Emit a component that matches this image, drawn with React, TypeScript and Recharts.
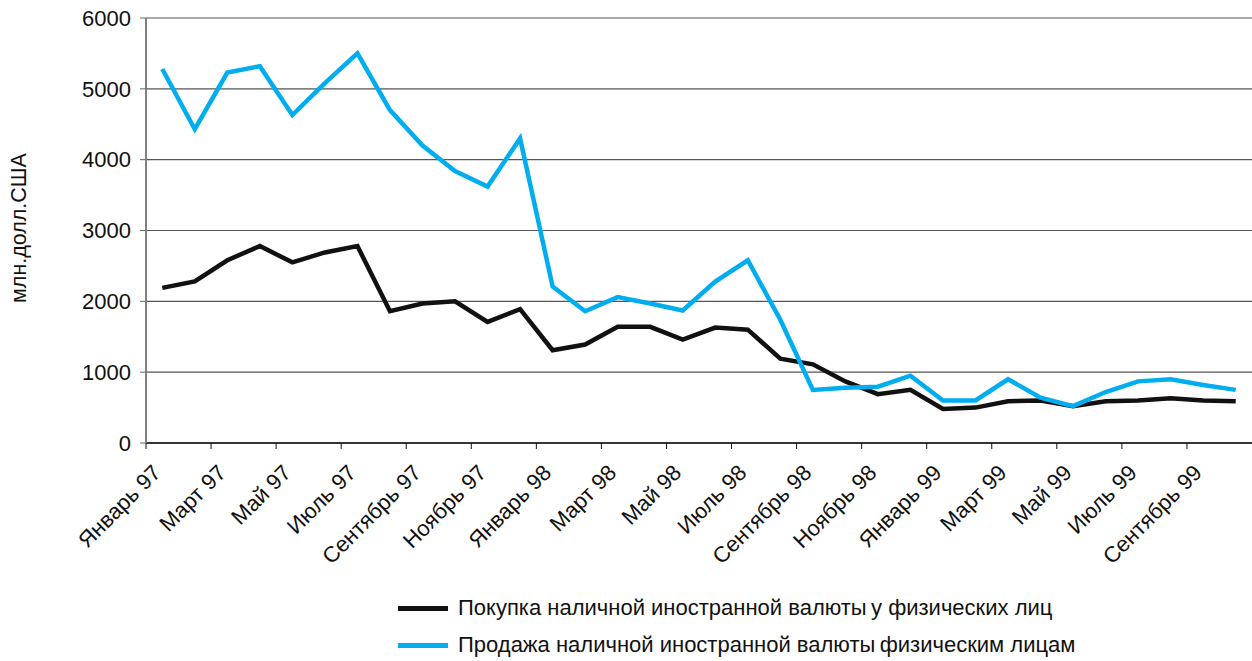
import { CartesianGrid, Legend, Line, LineChart, XAxis, YAxis } from "recharts";

// категории — по месяцам, январь 1997 — октябрь 1999
const months = [
	"Январь 97", "Февраль 97", "Март 97", "Апрель 97", "Май 97", "Июнь 97",
	"Июль 97", "Август 97", "Сентябрь 97", "Октябрь 97", "Ноябрь 97", "Декабрь 97",
	"Январь 98", "Февраль 98", "Март 98", "Апрель 98", "Май 98", "Июнь 98",
	"Июль 98", "Август 98", "Сентябрь 98", "Октябрь 98", "Ноябрь 98", "Декабрь 98",
	"Январь 99", "Февраль 99", "Март 99", "Апрель 99", "Май 99", "Июнь 99",
	"Июль 99", "Август 99", "Сентябрь 99", "Октябрь 99",
];

// покупка у физических лиц, млн. долл. США
const purchase = [
	2190, 2280, 2580, 2780, 2550, 2690, 2780, 1860, 1970, 2000, 1710, 1890,
	1310, 1390, 1640, 1640, 1460, 1630, 1600, 1190, 1110, 870, 690, 750,
	480, 500, 590, 600, 520, 590, 600, 630, 600, 590,
];

// продажа физическим лицам, млн. долл. США
const sale = [
	5280, 4430, 5230, 5320, 4630, 5080, 5500, 4700, 4200, 3840, 3620, 4300,
	2210, 1860, 2060, 1970, 1870, 2280, 2580, 1740, 750, 780, 795, 950,
	600, 600, 900, 640, 520, 720, 870, 900, 820, 750,
];

const yTicks = [0, 1000, 2000, 3000, 4000, 5000, 6000];

const seriesNames = {
	purchase: "Покупка наличной иностранной валюты\u2009у физических лиц",
	sale: "Продажа наличной иностранной валюты\u2009физическим лицам",
};

const WIDTH = 1252;
const HEIGHT = 661;
const PLOT_LEFT = 146;
const BAND = (WIDTH - PLOT_LEFT) / months.length;

const BLACK = "#111111";
const BLUE = "#00aeef";

const chartData = months.map((month, i) => ({
	idx: i,
	month,
	purchase: purchase[i],
	sale: sale[i],
}));

// метки через месяц, деления на границах категорий
const xTicks = months.map((_, i) => i - 0.5).filter((_, i) => i % 2 === 0);

function MonthTick(props: any) {
	const { x, y, payload } = props;
	const label = months[payload.value + 0.5];
	const ax = x + BAND / 2;
	const ay = y + 23;
	return (
		<text
			x={ax}
			y={ay}
			textAnchor="end"
			fontSize={22}
			fill="#111"
			transform={`rotate(-45, ${ax}, ${ay})`}
		>
			{label}
		</text>
	);
}

function YTitle() {
	return (
		<text
			x={26}
			y={228}
			textAnchor="middle"
			fontSize={21.5}
			fill="#111"
			transform="rotate(-90, 26, 228)"
		>
			млн.долл.США
		</text>
	);
}

function LegendBox() {
	const rows = [
		{ name: seriesNames.purchase, color: BLACK },
		{ name: seriesNames.sale, color: BLUE },
	];
	return (
		<div style={{ height: 80, position: "relative" }}>
			{rows.map((r, i) => (
				<div
					key={r.name}
					style={{
						position: "absolute",
						left: 398,
						top: 14 + i * 37,
						height: 26,
						display: "flex",
						alignItems: "center",
						whiteSpace: "nowrap",
					}}
				>
					<div style={{ width: 50, height: 5, background: r.color, marginRight: 10 }} />
					<span style={{ fontSize: 22, color: "#111" }}>{r.name}</span>
				</div>
			))}
		</div>
	);
}

export default function App() {
	return (
		<div
			style={{
				position: "absolute",
				left: 0,
				top: 0,
				width: WIDTH,
				height: HEIGHT,
				background: "#fff",
				fontFamily: "'Liberation Sans', Arial, sans-serif",
			}}
		>
			<LineChart
				width={WIDTH}
				height={HEIGHT}
				data={chartData}
				margin={{ top: 18, right: 0, left: 0, bottom: 0 }}
			>
				<CartesianGrid horizontal vertical={false} stroke="#555" strokeWidth={1.2} />
				<XAxis
					type="number"
					dataKey="idx"
					domain={[-0.5, months.length - 0.5]}
					ticks={xTicks}
					interval={0}
					tick={<MonthTick />}
					tickSize={6}
					tickLine={{ stroke: "#111" }}
					axisLine={{ stroke: "#111", strokeWidth: 1.5 }}
					height={138}
				/>
				<YAxis
					domain={[0, 6000]}
					ticks={yTicks}
					width={PLOT_LEFT}
					tickSize={6}
					tickMargin={9}
					tick={{ fontSize: 22, fill: "#111" }}
					tickLine={{ stroke: "#666" }}
					axisLine={{ stroke: "#808080", strokeWidth: 2 }}
					label={<YTitle />}
				/>
				<Legend verticalAlign="bottom" content={<LegendBox />} />
				<Line
					type="linear"
					dataKey="purchase"
					name={seriesNames.purchase}
					stroke={BLACK}
					strokeWidth={4.5}
					strokeLinejoin="miter"
					dot={false}
					isAnimationActive={false}
				/>
				<Line
					type="linear"
					dataKey="sale"
					name={seriesNames.sale}
					stroke={BLUE}
					strokeWidth={4.5}
					strokeLinejoin="miter"
					dot={false}
					isAnimationActive={false}
				/>
			</LineChart>
		</div>
	);
}
